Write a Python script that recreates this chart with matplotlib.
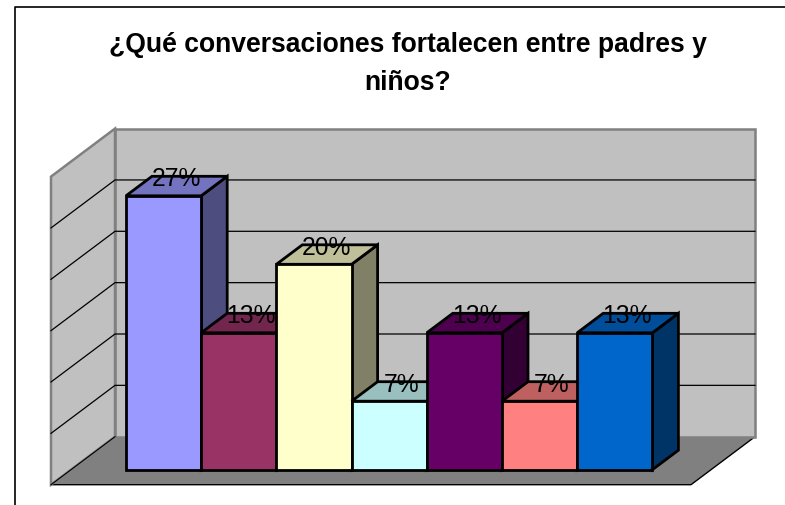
import matplotlib
matplotlib.use("Agg")
import matplotlib.pyplot as plt
from matplotlib.patches import Polygon

# Data
title = "¿Qué conversaciones fortalecen entre padres y\nniños?"
shares = [26.67, 13.33, 20.0, 6.67, 13.33, 6.67, 13.33]
labels = ["27%", "13%", "20%", "7%", "13%", "7%", "13%"]
colors = ["#9999FF", "#993366", "#FFFFCC", "#CCFFFF", "#660066", "#FF8080", "#0066CC"]
grid_levels = [0, 5, 10, 15, 20, 25, 30]

W, H = 785, 505
plt.rcParams["font.family"] = ["Liberation Sans", "DejaVu Sans"]
fig = plt.figure(figsize=(W / 100, H / 100), dpi=100, facecolor="white")
ax = fig.add_axes([0, 0, 1, 1])

# Scales: x in category units, y in percent. Depth d: 0 = front of floor, 1 = back wall
PX_CAT = 75.2
PX_PCT = 10.27
X0_PX = 106.0      # left edge of first bar at depth 0
Y0_PX = 484.7      # value 0 at depth 0
ax.set_xlim(-0.5 - X0_PX / PX_CAT, -0.5 + (W - X0_PX) / PX_CAT)
ax.set_ylim((Y0_PX - H) / PX_PCT, Y0_PX / PX_PCT)
ax.axis("off")
DX = 64 / PX_CAT
DY = 48 / PX_PCT
LEFT = -0.5 - 55 / PX_CAT
RIGHT = -0.5 + 585 / PX_CAT
D_FRONT, D_BACK = 0.3125, 0.7187


def P(x, v, d):
    return (x + d * DX, v + d * DY)


def poly(pts, fc, ec, lw, z):
    ax.add_patch(Polygon(pts, closed=True, facecolor=fc, edgecolor=ec, linewidth=lw,
                         zorder=z, joinstyle="miter"))


def shade(hexcol, f):
    r, g, b = matplotlib.colors.to_rgb(hexcol)
    return (r * f, g * f, b * f)


TOP = grid_levels[-1]
WALL = "#C0C0C0"
WALL_EDGE = "#808080"
# floor
poly([P(LEFT, 0, 0), P(RIGHT, 0, 0), P(RIGHT, 0, 1), P(LEFT, 0, 1)], "#808080", "none", 0, 1)
ax.plot(*zip(P(LEFT, 0, 0), P(RIGHT, 0, 0), P(RIGHT, 0, 1)), color="black", lw=1, zorder=1.1)
# walls
poly([P(LEFT, 0, 1), P(RIGHT, 0, 1), P(RIGHT, TOP, 1), P(LEFT, TOP, 1)], WALL, WALL_EDGE, 1.8, 2)
poly([P(LEFT, 0, 0), P(LEFT, 0, 1), P(LEFT, TOP, 1), P(LEFT, TOP, 0)], WALL, WALL_EDGE, 1.8, 2)
ax.plot(*zip(P(LEFT, 0, 0), P(LEFT, 0, 1)), color="black", lw=0.8, zorder=2.2)
# gridlines
for g in grid_levels[1:-1]:
    ax.plot(*zip(P(LEFT, g, 0), P(LEFT, g, 1), P(RIGHT, g, 1)), color="black", lw=0.9,
            zorder=2.5, solid_joinstyle="miter")

# bars, drawn left to right so each covers its neighbour's side
for i, (v, c) in enumerate(zip(shares, colors)):
    l, r = i - 0.5, i + 0.5
    z = 3 + i * 0.1
    ec, lw = "black", 2.0
    poly([P(r, 0, D_FRONT), P(r, 0, D_BACK), P(r, v, D_BACK), P(r, v, D_FRONT)], shade(c, 0.5), ec, lw, z)
    poly([P(l, v, D_FRONT), P(r, v, D_FRONT), P(r, v, D_BACK), P(l, v, D_BACK)], shade(c, 0.75), ec, lw, z + 0.01)
    poly([P(l, 0, D_FRONT), P(r, 0, D_FRONT), P(r, v, D_FRONT), P(l, v, D_FRONT)], c, ec, lw, z + 0.02)

# value labels: centred on the top face horizontally, on its back edge vertically
D_MID = (D_FRONT + D_BACK) / 2
for i, (v, t) in enumerate(zip(shares, labels)):
    x = P(i, v, D_MID)[0]
    y = P(i, v, D_BACK)[1]
    ax.annotate(t, (x, y), xytext=(-0.4, -2.2), textcoords="offset points", ha="center", va="center",
                fontsize=17.7, color="black", zorder=10)

# chart area border and title
fig.add_artist(plt.Line2D([14.5 / W, 14.5 / W, 1], [0, 1 - 6.5 / H, 1 - 6.5 / H], color="black", lw=1.2))
fig.text(408 / W, 1 - 64 / H, title, ha="center", va="center", fontsize=19.1, fontweight="bold",
         linespacing=1.58, color="black")

fig.savefig("out.png", dpi=100)
